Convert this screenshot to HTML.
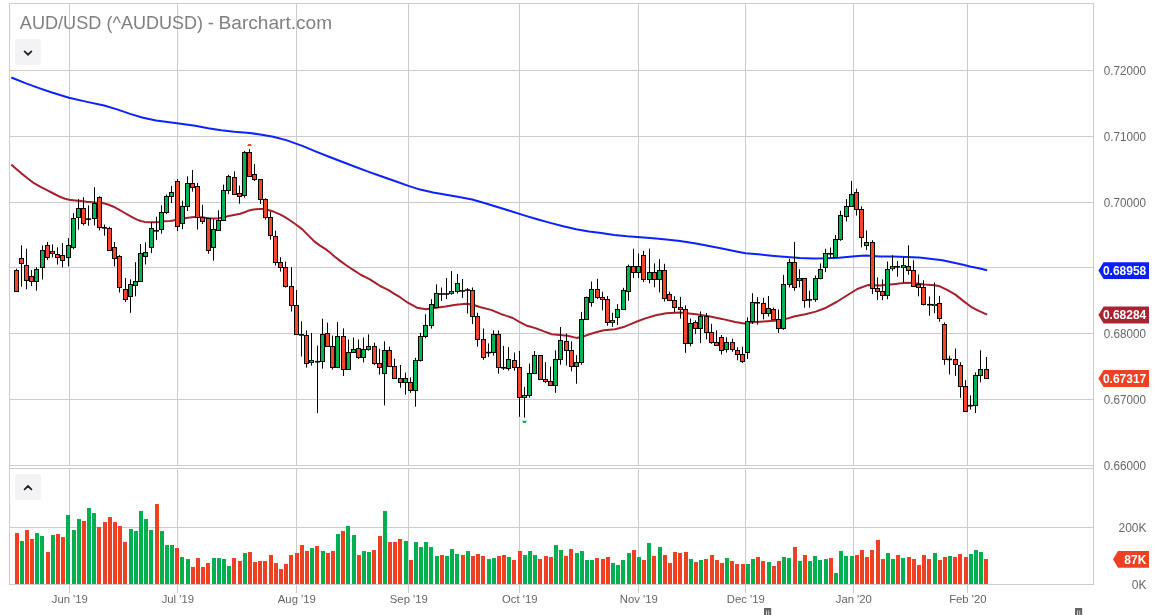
<!DOCTYPE html>
<html><head><meta charset="utf-8"><title>AUD/USD (^AUDUSD) - Barchart.com</title>
<style>html,body{margin:0;padding:0;background:#fff;}svg{display:block}text{font-family:"Liberation Sans",sans-serif;}</style></head><body>
<svg width="1156" height="615" viewBox="0 0 1156 615">
<rect width="1156" height="615" fill="#fff"/>
<g stroke="#cccccc" stroke-width="1" fill="none" shape-rendering="crispEdges">
<path d="M69.5 3.5V465.5M69.5 468.5V593"/>
<path d="M177.5 3.5V465.5M177.5 468.5V593"/>
<path d="M296.5 3.5V465.5M296.5 468.5V593"/>
<path d="M408.5 3.5V465.5M408.5 468.5V593"/>
<path d="M519.5 3.5V465.5M519.5 468.5V593"/>
<path d="M638.5 3.5V465.5M638.5 468.5V593"/>
<path d="M745.5 3.5V465.5M745.5 468.5V593"/>
<path d="M853.5 3.5V465.5M853.5 468.5V593"/>
<path d="M967.5 3.5V465.5M967.5 468.5V593"/>
<path d="M9.5 70.5H1093.5"/>
<path d="M9.5 136.5H1093.5"/>
<path d="M9.5 202.5H1093.5"/>
<path d="M9.5 267.5H1093.5"/>
<path d="M9.5 333.5H1093.5"/>
<path d="M9.5 399.5H1093.5"/>
<path d="M9.5 527.5H1093.5"/>
<rect x="9.5" y="3.5" width="1084" height="462"/>
<rect x="9.5" y="468.5" width="1084" height="116"/>
<path d="M9.5 465V469M1093.5 465V469"/>
</g>
<text y="28.8" font-size="18.6" fill="#808080"><tspan x="19.8" textLength="81.6" lengthAdjust="spacingAndGlyphs">AUD/USD</tspan> <tspan x="106.6" textLength="96.4" lengthAdjust="spacingAndGlyphs">(^AUDUSD)</tspan> <tspan x="207.7">-</tspan> <tspan x="218.6" textLength="113.5" lengthAdjust="spacingAndGlyphs">Barchart.com</tspan></text>
<rect x="15" y="39" width="26" height="26" rx="3.5" fill="#f3f3f5"/>
<path d="M24.6 51.4L28 54.7L31.4 51.4" stroke="#222" stroke-width="1.8" fill="none" stroke-linecap="round" stroke-linejoin="miter"/>
<rect x="15" y="474" width="26" height="26" rx="3.5" fill="#f3f3f5"/>
<path d="M24.6 489.4L28 486.1L31.4 489.4" stroke="#222" stroke-width="1.8" fill="none" stroke-linecap="round" stroke-linejoin="miter"/>
<g fill="#00b050">
<rect x="20" y="541" width="4" height="43"/>
<rect x="35" y="533" width="4" height="51"/>
<rect x="40" y="536" width="4" height="48"/>
<rect x="51" y="535" width="4" height="49"/>
<rect x="66" y="515" width="4" height="69"/>
<rect x="72" y="530" width="4" height="54"/>
<rect x="77" y="519" width="4" height="65"/>
<rect x="87" y="508" width="4" height="76"/>
<rect x="92" y="513" width="4" height="71"/>
<rect x="129" y="529" width="4" height="55"/>
<rect x="134" y="531" width="4" height="53"/>
<rect x="139" y="511" width="4" height="73"/>
<rect x="144" y="519" width="4" height="65"/>
<rect x="149" y="530" width="4" height="54"/>
<rect x="160" y="531" width="4" height="53"/>
<rect x="165" y="545" width="4" height="39"/>
<rect x="170" y="545" width="4" height="39"/>
<rect x="180" y="557" width="4" height="27"/>
<rect x="186" y="559" width="4" height="25"/>
<rect x="212" y="558" width="4" height="26"/>
<rect x="217" y="558" width="4" height="26"/>
<rect x="222" y="559" width="4" height="25"/>
<rect x="227" y="566" width="4" height="18"/>
<rect x="243" y="553" width="4" height="31"/>
<rect x="310" y="548" width="4" height="36"/>
<rect x="321" y="551" width="4" height="33"/>
<rect x="336" y="534" width="4" height="50"/>
<rect x="346" y="526" width="4" height="58"/>
<rect x="352" y="535" width="4" height="49"/>
<rect x="362" y="551" width="4" height="33"/>
<rect x="367" y="552" width="4" height="32"/>
<rect x="383" y="511" width="4" height="73"/>
<rect x="404" y="541" width="4" height="43"/>
<rect x="414" y="542" width="4" height="42"/>
<rect x="419" y="547" width="4" height="37"/>
<rect x="424" y="542" width="4" height="42"/>
<rect x="429" y="547" width="4" height="37"/>
<rect x="435" y="556" width="4" height="28"/>
<rect x="445" y="556" width="4" height="28"/>
<rect x="450" y="549" width="4" height="35"/>
<rect x="455" y="554" width="4" height="30"/>
<rect x="466" y="551" width="4" height="33"/>
<rect x="487" y="559" width="4" height="25"/>
<rect x="492" y="558" width="4" height="26"/>
<rect x="507" y="557" width="4" height="27"/>
<rect x="523" y="555" width="4" height="29"/>
<rect x="528" y="551" width="4" height="33"/>
<rect x="533" y="555" width="4" height="29"/>
<rect x="554" y="545" width="4" height="39"/>
<rect x="559" y="550" width="4" height="34"/>
<rect x="575" y="553" width="4" height="31"/>
<rect x="580" y="551" width="4" height="33"/>
<rect x="585" y="560" width="4" height="24"/>
<rect x="590" y="560" width="4" height="24"/>
<rect x="611" y="563" width="4" height="21"/>
<rect x="616" y="565" width="4" height="19"/>
<rect x="621" y="560" width="4" height="24"/>
<rect x="627" y="553" width="4" height="31"/>
<rect x="637" y="557" width="4" height="27"/>
<rect x="647" y="543" width="4" height="41"/>
<rect x="658" y="547" width="4" height="37"/>
<rect x="689" y="559" width="4" height="25"/>
<rect x="699" y="560" width="4" height="24"/>
<rect x="725" y="558" width="4" height="26"/>
<rect x="746" y="564" width="4" height="20"/>
<rect x="751" y="559" width="4" height="25"/>
<rect x="767" y="562" width="4" height="22"/>
<rect x="782" y="557" width="4" height="27"/>
<rect x="787" y="558" width="4" height="26"/>
<rect x="798" y="561" width="4" height="23"/>
<rect x="808" y="561" width="4" height="23"/>
<rect x="813" y="556" width="4" height="28"/>
<rect x="818" y="560" width="4" height="24"/>
<rect x="824" y="559" width="4" height="25"/>
<rect x="834" y="573" width="4" height="11"/>
<rect x="839" y="551" width="4" height="33"/>
<rect x="844" y="556" width="4" height="28"/>
<rect x="850" y="556" width="4" height="28"/>
<rect x="886" y="553" width="4" height="31"/>
<rect x="891" y="559" width="4" height="25"/>
<rect x="901" y="558" width="4" height="26"/>
<rect x="933" y="553" width="4" height="31"/>
<rect x="948" y="556" width="4" height="28"/>
<rect x="969" y="554" width="4" height="30"/>
<rect x="974" y="550" width="4" height="34"/>
<rect x="979" y="552" width="4" height="32"/>
</g>
<g fill="#f04023">
<rect x="15" y="533" width="4" height="51"/>
<rect x="25" y="530" width="4" height="54"/>
<rect x="30" y="539" width="4" height="45"/>
<rect x="46" y="552" width="4" height="32"/>
<rect x="56" y="534" width="4" height="50"/>
<rect x="61" y="537" width="4" height="47"/>
<rect x="82" y="521" width="4" height="63"/>
<rect x="97" y="527" width="4" height="57"/>
<rect x="103" y="522" width="4" height="62"/>
<rect x="108" y="517" width="4" height="67"/>
<rect x="113" y="522" width="4" height="62"/>
<rect x="118" y="526" width="4" height="58"/>
<rect x="123" y="542" width="4" height="42"/>
<rect x="155" y="504" width="4" height="80"/>
<rect x="175" y="548" width="4" height="36"/>
<rect x="191" y="567" width="4" height="17"/>
<rect x="196" y="558" width="4" height="26"/>
<rect x="201" y="567" width="4" height="17"/>
<rect x="206" y="563" width="4" height="21"/>
<rect x="232" y="558" width="4" height="26"/>
<rect x="238" y="561" width="4" height="23"/>
<rect x="248" y="552" width="4" height="32"/>
<rect x="253" y="562" width="4" height="22"/>
<rect x="258" y="561" width="4" height="23"/>
<rect x="263" y="561" width="4" height="23"/>
<rect x="269" y="555" width="4" height="29"/>
<rect x="274" y="563" width="4" height="21"/>
<rect x="279" y="569" width="4" height="15"/>
<rect x="284" y="564" width="4" height="20"/>
<rect x="289" y="555" width="4" height="29"/>
<rect x="295" y="553" width="4" height="31"/>
<rect x="300" y="545" width="4" height="39"/>
<rect x="305" y="551" width="4" height="33"/>
<rect x="315" y="546" width="4" height="38"/>
<rect x="326" y="553" width="4" height="31"/>
<rect x="331" y="551" width="4" height="33"/>
<rect x="341" y="531" width="4" height="53"/>
<rect x="357" y="555" width="4" height="29"/>
<rect x="372" y="550" width="4" height="34"/>
<rect x="378" y="536" width="4" height="48"/>
<rect x="388" y="542" width="4" height="42"/>
<rect x="393" y="542" width="4" height="42"/>
<rect x="398" y="539" width="4" height="45"/>
<rect x="409" y="560" width="4" height="24"/>
<rect x="440" y="555" width="4" height="29"/>
<rect x="461" y="555" width="4" height="29"/>
<rect x="471" y="556" width="4" height="28"/>
<rect x="476" y="554" width="4" height="30"/>
<rect x="481" y="556" width="4" height="28"/>
<rect x="497" y="556" width="4" height="28"/>
<rect x="502" y="555" width="4" height="29"/>
<rect x="512" y="560" width="4" height="24"/>
<rect x="518" y="551" width="4" height="33"/>
<rect x="538" y="559" width="4" height="25"/>
<rect x="544" y="556" width="4" height="28"/>
<rect x="549" y="557" width="4" height="27"/>
<rect x="564" y="556" width="4" height="28"/>
<rect x="569" y="549" width="4" height="35"/>
<rect x="595" y="558" width="4" height="26"/>
<rect x="601" y="559" width="4" height="25"/>
<rect x="606" y="557" width="4" height="27"/>
<rect x="632" y="550" width="4" height="34"/>
<rect x="642" y="560" width="4" height="24"/>
<rect x="652" y="556" width="4" height="28"/>
<rect x="663" y="555" width="4" height="29"/>
<rect x="668" y="563" width="4" height="21"/>
<rect x="673" y="552" width="4" height="32"/>
<rect x="678" y="553" width="4" height="31"/>
<rect x="684" y="552" width="4" height="32"/>
<rect x="694" y="562" width="4" height="22"/>
<rect x="704" y="559" width="4" height="25"/>
<rect x="710" y="555" width="4" height="29"/>
<rect x="715" y="560" width="4" height="24"/>
<rect x="720" y="563" width="4" height="21"/>
<rect x="730" y="561" width="4" height="23"/>
<rect x="735" y="564" width="4" height="20"/>
<rect x="741" y="564" width="4" height="20"/>
<rect x="756" y="557" width="4" height="27"/>
<rect x="761" y="561" width="4" height="23"/>
<rect x="772" y="566" width="4" height="18"/>
<rect x="777" y="561" width="4" height="23"/>
<rect x="793" y="547" width="4" height="37"/>
<rect x="803" y="555" width="4" height="29"/>
<rect x="829" y="558" width="4" height="26"/>
<rect x="855" y="555" width="4" height="29"/>
<rect x="860" y="550" width="4" height="34"/>
<rect x="865" y="557" width="4" height="27"/>
<rect x="870" y="550" width="4" height="34"/>
<rect x="876" y="540" width="4" height="44"/>
<rect x="881" y="559" width="4" height="25"/>
<rect x="896" y="555" width="4" height="29"/>
<rect x="907" y="557" width="4" height="27"/>
<rect x="912" y="559" width="4" height="25"/>
<rect x="917" y="565" width="4" height="19"/>
<rect x="922" y="555" width="4" height="29"/>
<rect x="927" y="559" width="4" height="25"/>
<rect x="938" y="560" width="4" height="24"/>
<rect x="943" y="557" width="4" height="27"/>
<rect x="953" y="557" width="4" height="27"/>
<rect x="958" y="554" width="4" height="30"/>
<rect x="964" y="557" width="4" height="27"/>
<rect x="984" y="559" width="4" height="25"/>
</g>
<polyline points="11.3,77.5 26.0,83.4 39.0,88.1 52.0,92.5 69.0,97.7 85.9,101.6 104.1,105.5 117.1,109.4 130.1,113.9 143.1,117.8 156.1,120.4 177.0,123.2 195.2,125.8 208.2,128.2 221.2,130.3 234.2,131.8 249.8,133.1 260.2,134.4 273.2,136.8 286.2,140.1 303.0,146.1 316.0,151.6 329.0,156.8 342.0,161.7 355.1,166.7 368.1,171.6 381.1,176.3 394.1,180.7 408.4,185.9 420.1,189.6 433.1,192.5 446.1,194.8 459.1,197.1 472.1,199.5 485.2,203.3 498.2,207.3 511.2,211.2 524.2,215.4 537.2,219.3 550.2,222.9 563.2,226.2 576.2,229.3 589.0,231.4 601.2,233.0 614.2,234.9 627.2,236.2 640.2,237.2 653.2,238.3 666.2,239.6 680.0,241.1 696.0,243.4 709.0,246.0 722.0,248.6 735.1,251.2 745.5,253.3 761.1,254.6 774.1,255.9 787.1,257.0 800.1,258.0 813.1,258.5 826.1,258.3 839.1,257.7 852.2,256.4 865.2,255.6 880.0,256.4 893.0,256.6 906.0,256.9 919.0,257.6 932.0,258.9 942.4,260.2 952.8,262.4 963.2,264.7 971.0,266.7 978.8,268.3 987.1,270.3" fill="none" stroke="#0c22ff" stroke-width="2" stroke-linejoin="round" stroke-linecap="butt"/>
<polyline points="11.3,164.6 16.0,168.8 21.0,173.1 27.5,178.3 34.0,183.2 40.5,186.8 47.0,190.1 53.5,193.5 60.0,196.8 65.0,198.7 69.1,199.7 75.0,200.4 80.8,201.0 86.5,201.7 92.5,202.3 97.0,202.8 101.7,202.8 108.0,204.5 113.5,206.7 118.5,209.3 123.9,212.5 128.5,215.2 133.0,217.7 137.0,219.6 140.8,221.0 144.5,221.9 148.6,222.3 154.0,222.2 159.0,221.9 164.0,221.3 170.0,220.9 176.0,219.9 183.0,218.6 190.0,217.5 196.0,216.8 203.0,217.4 209.0,218.3 214.0,218.6 218.1,218.6 223.0,217.6 228.5,216.0 234.0,215.0 240.2,213.8 244.0,212.5 248.0,210.8 252.0,209.8 255.8,209.2 260.0,208.9 263.6,209.0 269.0,210.2 274.0,211.8 280.0,214.4 285.0,217.2 289.5,220.0 293.8,223.0 298.0,226.0 302.6,229.6 308.5,235.6 314.3,241.4 320.0,245.6 326.0,249.4 330.5,253.0 334.8,256.7 340.5,261.1 346.5,265.5 354.0,270.4 361.1,275.0 365.5,277.2 369.9,279.4 375.0,282.7 380.2,286.0 384.5,288.2 389.0,290.4 394.0,293.6 400.0,297.2 407.8,302.7 416.9,307.7 426.0,309.2 436.4,307.7 445.5,306.6 455.9,304.7 466.3,303.8 472.8,304.7 480.6,307.3 491.0,309.9 501.4,314.2 505.0,315.4 512.8,318.0 519.3,321.9 527.1,325.8 536.2,328.4 544.0,331.4 551.8,334.2 559.6,334.9 567.4,335.8 576.5,337.9 583.0,336.6 589.5,334.2 596.0,332.3 603.8,330.3 615.0,329.2 624.6,326.7 635.0,322.3 645.4,318.4 655.8,315.3 666.2,313.2 680.0,312.6 696.0,314.2 709.0,316.3 722.0,318.9 735.1,322.0 744.2,323.6 753.3,322.3 763.7,321.5 774.1,320.7 784.5,319.4 794.9,316.3 805.3,314.2 815.7,311.6 826.1,307.7 836.5,302.0 846.9,295.5 857.3,289.0 867.8,285.1 880.0,285.6 893.0,284.2 906.0,282.8 913.8,282.9 924.2,284.4 934.6,285.2 939.8,286.3 947.6,290.1 955.4,294.6 963.2,300.9 971.0,306.8 978.8,310.9 987.1,314.7" fill="none" stroke="#a61f2c" stroke-width="2" stroke-linejoin="round" stroke-linecap="butt"/>
<g stroke="#000" stroke-width="1">
<path d="M16.5 268.7V292.0"/>
<path d="M21.5 245.3V286.7"/>
<path d="M26.5 248.7V289.2"/>
<path d="M31.5 270.0V286.0"/>
<path d="M36.5 267.2V290.6"/>
<path d="M42.5 245.3V279.5"/>
<path d="M47.5 242.0V260.0"/>
<path d="M52.5 244.4V257.4"/>
<path d="M57.5 247.3V264.5"/>
<path d="M62.5 243.0V267.4"/>
<path d="M68.5 238.1V266.4"/>
<path d="M73.5 213.2V249.2"/>
<path d="M78.5 199.1V229.7"/>
<path d="M83.5 197.2V225.4"/>
<path d="M88.5 205.4V225.8"/>
<path d="M94.5 187.2V225.4"/>
<path d="M99.5 196.2V230.3"/>
<path d="M104.5 224.5V235.6"/>
<path d="M109.5 226.8V251.0"/>
<path d="M114.5 242.0V266.4"/>
<path d="M119.5 255.1V292.5"/>
<path d="M125.5 278.1V302.0"/>
<path d="M130.5 279.3V312.8"/>
<path d="M135.5 262.2V296.3"/>
<path d="M140.5 244.0V282.0"/>
<path d="M145.5 242.4V264.5"/>
<path d="M151.5 221.9V253.1"/>
<path d="M156.5 216.7V239.9"/>
<path d="M161.5 205.3V233.7"/>
<path d="M166.5 194.5V214.0"/>
<path d="M171.5 185.9V203.0"/>
<path d="M177.5 179.1V231.0"/>
<path d="M182.5 200.7V229.2"/>
<path d="M187.5 176.4V211.0"/>
<path d="M192.5 170.0V191.6"/>
<path d="M197.5 182.9V229.5"/>
<path d="M202.5 204.9V223.9"/>
<path d="M208.5 218.0V253.8"/>
<path d="M213.5 219.3V260.7"/>
<path d="M218.5 210.3V231.0"/>
<path d="M223.5 184.6V221.0"/>
<path d="M228.5 174.8V194.2"/>
<path d="M234.5 171.4V195.0"/>
<path d="M239.5 185.5V203.7"/>
<path d="M244.5 150.9V197.6"/>
<path d="M249.5 149.1V177.0"/>
<path d="M254.5 164.1V181.0"/>
<path d="M260.5 179.0V204.0"/>
<path d="M265.5 198.3V219.7"/>
<path d="M270.5 211.7V239.7"/>
<path d="M275.5 230.6V265.6"/>
<path d="M280.5 257.2V271.6"/>
<path d="M285.5 261.6V287.5"/>
<path d="M291.5 267.2V311.5"/>
<path d="M296.5 290.1V335.0"/>
<path d="M301.5 321.3V356.5"/>
<path d="M306.5 330.4V367.6"/>
<path d="M311.5 333.0V365.6"/>
<path d="M317.5 345.5V413.2"/>
<path d="M322.5 318.7V368.7"/>
<path d="M327.5 322.6V347.0"/>
<path d="M332.5 335.6V369.5"/>
<path d="M337.5 322.1V368.0"/>
<path d="M343.5 328.4V376.0"/>
<path d="M348.5 339.5V370.0"/>
<path d="M353.5 337.5V353.0"/>
<path d="M358.5 339.5V359.0"/>
<path d="M363.5 337.5V362.4"/>
<path d="M368.5 334.3V350.7"/>
<path d="M374.5 342.7V365.0"/>
<path d="M379.5 348.7V374.7"/>
<path d="M384.5 341.4V405.4"/>
<path d="M389.5 346.6V367.0"/>
<path d="M394.5 358.6V379.0"/>
<path d="M400.5 365.0V387.7"/>
<path d="M405.5 372.6V394.7"/>
<path d="M410.5 377.3V392.9"/>
<path d="M415.5 357.8V406.7"/>
<path d="M420.5 333.0V361.7"/>
<path d="M425.5 314.3V338.2"/>
<path d="M431.5 299.2V328.6"/>
<path d="M436.5 284.4V308.0"/>
<path d="M441.5 287.5V301.0"/>
<path d="M446.5 277.9V299.2"/>
<path d="M451.5 271.1V294.8"/>
<path d="M457.5 274.0V293.5"/>
<path d="M462.5 278.9V297.9"/>
<path d="M467.5 288.0V313.5"/>
<path d="M472.5 287.5V323.9"/>
<path d="M477.5 312.8V346.6"/>
<path d="M483.5 328.6V359.8"/>
<path d="M488.5 343.4V357.0"/>
<path d="M493.5 330.3V355.6"/>
<path d="M498.5 330.6V373.6"/>
<path d="M503.5 345.9V370.0"/>
<path d="M508.5 347.1V370.7"/>
<path d="M514.5 352.5V370.7"/>
<path d="M519.5 351.0V416.8"/>
<path d="M524.5 386.9V417.6"/>
<path d="M529.5 363.5V397.8"/>
<path d="M534.5 351.0V374.0"/>
<path d="M540.5 355.0V380.0"/>
<path d="M545.5 362.1V383.0"/>
<path d="M550.5 366.6V386.0"/>
<path d="M555.5 350.4V392.8"/>
<path d="M560.5 327.0V364.8"/>
<path d="M566.5 333.5V365.5"/>
<path d="M571.5 341.3V371.3"/>
<path d="M576.5 355.1V383.7"/>
<path d="M581.5 311.9V364.8"/>
<path d="M586.5 296.6V320.0"/>
<path d="M591.5 281.5V306.7"/>
<path d="M597.5 278.9V299.2"/>
<path d="M602.5 291.7V310.3"/>
<path d="M607.5 296.0V325.7"/>
<path d="M612.5 312.7V326.8"/>
<path d="M617.5 304.1V325.0"/>
<path d="M623.5 287.8V310.0"/>
<path d="M628.5 264.6V300.8"/>
<path d="M633.5 248.7V278.1"/>
<path d="M638.5 253.4V278.1"/>
<path d="M643.5 250.8V282.0"/>
<path d="M649.5 248.7V283.3"/>
<path d="M654.5 263.3V287.2"/>
<path d="M659.5 259.1V292.4"/>
<path d="M664.5 263.8V301.5"/>
<path d="M669.5 291.7V301.0"/>
<path d="M674.5 296.3V312.0"/>
<path d="M680.5 296.9V318.5"/>
<path d="M685.5 305.4V352.8"/>
<path d="M690.5 318.5V346.3"/>
<path d="M695.5 320.3V334.1"/>
<path d="M700.5 311.4V343.2"/>
<path d="M706.5 313.0V339.3"/>
<path d="M711.5 323.8V343.8"/>
<path d="M716.5 330.4V346.0"/>
<path d="M721.5 335.0V354.6"/>
<path d="M726.5 337.4V352.5"/>
<path d="M732.5 338.7V351.7"/>
<path d="M737.5 347.3V360.3"/>
<path d="M742.5 346.7V362.9"/>
<path d="M747.5 317.4V359.0"/>
<path d="M752.5 293.2V323.9"/>
<path d="M757.5 297.1V324.6"/>
<path d="M763.5 297.8V319.4"/>
<path d="M768.5 296.0V316.6"/>
<path d="M773.5 307.7V320.0"/>
<path d="M778.5 309.5V333.0"/>
<path d="M783.5 274.9V329.8"/>
<path d="M789.5 258.8V287.4"/>
<path d="M794.5 241.9V290.8"/>
<path d="M799.5 269.2V287.4"/>
<path d="M804.5 278.0V307.7"/>
<path d="M809.5 290.6V307.7"/>
<path d="M815.5 275.5V301.8"/>
<path d="M820.5 263.4V279.4"/>
<path d="M825.5 248.8V272.2"/>
<path d="M830.5 247.5V258.5"/>
<path d="M835.5 235.0V258.0"/>
<path d="M840.5 210.8V240.8"/>
<path d="M846.5 199.1V221.5"/>
<path d="M851.5 180.9V207.0"/>
<path d="M856.5 188.7V215.5"/>
<path d="M861.5 206.4V247.3"/>
<path d="M866.5 230.4V249.9"/>
<path d="M872.5 240.2V294.1"/>
<path d="M877.5 277.4V300.1"/>
<path d="M882.5 279.3V300.1"/>
<path d="M887.5 261.6V299.3"/>
<path d="M892.5 255.3V270.9"/>
<path d="M897.5 261.1V276.7"/>
<path d="M903.5 257.1V282.4"/>
<path d="M908.5 245.4V274.8"/>
<path d="M913.5 260.3V287.0"/>
<path d="M918.5 274.5V296.3"/>
<path d="M923.5 280.3V305.4"/>
<path d="M929.5 296.5V315.8"/>
<path d="M934.5 282.6V313.3"/>
<path d="M939.5 295.9V321.7"/>
<path d="M944.5 322.4V364.8"/>
<path d="M949.5 355.7V374.5"/>
<path d="M955.5 348.5V375.8"/>
<path d="M960.5 362.2V397.9"/>
<path d="M965.5 380.2V412.0"/>
<path d="M970.5 395.3V409.6"/>
<path d="M975.5 372.4V413.0"/>
<path d="M980.5 350.3V382.3"/>
<path d="M986.5 357.0V379.0"/>
</g>
<g fill="#000">
<rect x="14.0" y="270.0" width="5" height="22.0"/>
<rect x="19.0" y="258.0" width="5" height="6.0"/>
<rect x="24.0" y="265.0" width="5" height="16.0"/>
<rect x="29.0" y="276.0" width="5" height="6.0"/>
<rect x="34.0" y="269.0" width="5" height="13.0"/>
<rect x="40.0" y="250.0" width="5" height="18.0"/>
<rect x="45.0" y="245.0" width="5" height="13.0"/>
<rect x="50.0" y="251.0" width="5" height="3.0"/>
<rect x="55.0" y="254.0" width="5" height="4.0"/>
<rect x="60.0" y="255.0" width="5" height="6.0"/>
<rect x="66.0" y="245.0" width="5" height="13.0"/>
<rect x="71.0" y="218.0" width="5" height="30.0"/>
<rect x="76.0" y="208.0" width="5" height="10.0"/>
<rect x="81.0" y="208.0" width="5" height="16.0"/>
<rect x="92.0" y="203.0" width="5" height="16.0"/>
<rect x="97.0" y="197.0" width="5" height="31.0"/>
<rect x="107.0" y="228.0" width="5" height="23.0"/>
<rect x="112.0" y="247.0" width="5" height="12.0"/>
<rect x="117.0" y="256.0" width="5" height="32.0"/>
<rect x="123.0" y="289.0" width="5" height="11.0"/>
<rect x="128.0" y="284.0" width="5" height="13.0"/>
<rect x="133.0" y="281.0" width="5" height="5.0"/>
<rect x="138.0" y="253.0" width="5" height="29.0"/>
<rect x="143.0" y="252.0" width="5" height="5.0"/>
<rect x="149.0" y="228.0" width="5" height="20.0"/>
<rect x="159.0" y="212.0" width="5" height="18.0"/>
<rect x="164.0" y="196.0" width="5" height="17.0"/>
<rect x="169.0" y="192.0" width="5" height="5.0"/>
<rect x="175.0" y="181.0" width="5" height="46.0"/>
<rect x="180.0" y="206.0" width="5" height="18.0"/>
<rect x="185.0" y="183.0" width="5" height="24.0"/>
<rect x="190.0" y="183.0" width="5" height="5.0"/>
<rect x="195.0" y="186.0" width="5" height="32.0"/>
<rect x="200.0" y="217.0" width="5" height="5.0"/>
<rect x="206.0" y="218.0" width="5" height="33.0"/>
<rect x="211.0" y="229.0" width="5" height="19.0"/>
<rect x="216.0" y="220.0" width="5" height="11.0"/>
<rect x="221.0" y="190.0" width="5" height="31.0"/>
<rect x="226.0" y="176.0" width="5" height="15.0"/>
<rect x="232.0" y="177.0" width="5" height="18.0"/>
<rect x="237.0" y="193.0" width="5" height="4.0"/>
<rect x="242.0" y="152.0" width="5" height="44.0"/>
<rect x="247.0" y="152.0" width="5" height="25.0"/>
<rect x="252.0" y="174.0" width="5" height="6.0"/>
<rect x="258.0" y="179.0" width="5" height="21.0"/>
<rect x="263.0" y="199.0" width="5" height="19.0"/>
<rect x="268.0" y="217.0" width="5" height="19.0"/>
<rect x="273.0" y="236.0" width="5" height="27.0"/>
<rect x="278.0" y="262.0" width="5" height="6.0"/>
<rect x="283.0" y="267.0" width="5" height="20.0"/>
<rect x="289.0" y="286.0" width="5" height="20.0"/>
<rect x="294.0" y="305.0" width="5" height="30.0"/>
<rect x="304.0" y="335.0" width="5" height="29.0"/>
<rect x="309.0" y="360.0" width="5" height="3.0"/>
<rect x="320.0" y="334.0" width="5" height="28.0"/>
<rect x="325.0" y="333.0" width="5" height="14.0"/>
<rect x="330.0" y="346.0" width="5" height="22.0"/>
<rect x="335.0" y="336.0" width="5" height="32.0"/>
<rect x="341.0" y="336.0" width="5" height="34.0"/>
<rect x="346.0" y="352.0" width="5" height="18.0"/>
<rect x="351.0" y="349.0" width="5" height="4.0"/>
<rect x="356.0" y="348.0" width="5" height="10.0"/>
<rect x="361.0" y="349.0" width="5" height="9.0"/>
<rect x="366.0" y="346.0" width="5" height="4.0"/>
<rect x="372.0" y="346.0" width="5" height="18.0"/>
<rect x="377.0" y="363.0" width="5" height="5.0"/>
<rect x="382.0" y="350.0" width="5" height="24.0"/>
<rect x="387.0" y="350.0" width="5" height="17.0"/>
<rect x="392.0" y="366.0" width="5" height="13.0"/>
<rect x="398.0" y="378.0" width="5" height="5.0"/>
<rect x="403.0" y="378.0" width="5" height="5.0"/>
<rect x="408.0" y="382.0" width="5" height="9.0"/>
<rect x="413.0" y="360.0" width="5" height="31.0"/>
<rect x="418.0" y="336.0" width="5" height="25.0"/>
<rect x="423.0" y="325.0" width="5" height="12.0"/>
<rect x="429.0" y="304.0" width="5" height="22.0"/>
<rect x="434.0" y="293.0" width="5" height="15.0"/>
<rect x="449.0" y="291.0" width="5" height="3.0"/>
<rect x="455.0" y="283.0" width="5" height="9.0"/>
<rect x="470.0" y="290.0" width="5" height="27.0"/>
<rect x="475.0" y="316.0" width="5" height="24.0"/>
<rect x="481.0" y="339.0" width="5" height="19.0"/>
<rect x="491.0" y="334.0" width="5" height="19.0"/>
<rect x="496.0" y="334.0" width="5" height="34.0"/>
<rect x="506.0" y="359.0" width="5" height="10.0"/>
<rect x="512.0" y="360.0" width="5" height="8.0"/>
<rect x="517.0" y="367.0" width="5" height="31.0"/>
<rect x="522.0" y="395.0" width="5" height="3.0"/>
<rect x="527.0" y="373.0" width="5" height="23.0"/>
<rect x="532.0" y="355.0" width="5" height="19.0"/>
<rect x="538.0" y="355.0" width="5" height="25.0"/>
<rect x="543.0" y="379.0" width="5" height="3.0"/>
<rect x="548.0" y="381.0" width="5" height="5.0"/>
<rect x="553.0" y="359.0" width="5" height="27.0"/>
<rect x="558.0" y="340.0" width="5" height="20.0"/>
<rect x="564.0" y="341.0" width="5" height="10.0"/>
<rect x="569.0" y="350.0" width="5" height="17.0"/>
<rect x="574.0" y="362.0" width="5" height="5.0"/>
<rect x="579.0" y="319.0" width="5" height="44.0"/>
<rect x="584.0" y="297.0" width="5" height="23.0"/>
<rect x="589.0" y="289.0" width="5" height="14.0"/>
<rect x="595.0" y="289.0" width="5" height="9.0"/>
<rect x="600.0" y="297.0" width="5" height="3.0"/>
<rect x="605.0" y="299.0" width="5" height="24.0"/>
<rect x="610.0" y="320.0" width="5" height="3.0"/>
<rect x="615.0" y="309.0" width="5" height="9.0"/>
<rect x="621.0" y="290.0" width="5" height="20.0"/>
<rect x="626.0" y="266.0" width="5" height="26.0"/>
<rect x="631.0" y="266.0" width="5" height="7.0"/>
<rect x="636.0" y="266.0" width="5" height="7.0"/>
<rect x="641.0" y="255.0" width="5" height="25.0"/>
<rect x="647.0" y="272.0" width="5" height="8.0"/>
<rect x="652.0" y="272.0" width="5" height="8.0"/>
<rect x="657.0" y="270.0" width="5" height="10.0"/>
<rect x="662.0" y="270.0" width="5" height="29.0"/>
<rect x="667.0" y="294.0" width="5" height="7.0"/>
<rect x="672.0" y="300.0" width="5" height="8.0"/>
<rect x="678.0" y="307.0" width="5" height="3.0"/>
<rect x="683.0" y="309.0" width="5" height="35.0"/>
<rect x="688.0" y="323.0" width="5" height="21.0"/>
<rect x="693.0" y="322.0" width="5" height="7.0"/>
<rect x="698.0" y="316.0" width="5" height="13.0"/>
<rect x="704.0" y="316.0" width="5" height="17.0"/>
<rect x="709.0" y="332.0" width="5" height="11.0"/>
<rect x="714.0" y="342.0" width="5" height="4.0"/>
<rect x="719.0" y="337.0" width="5" height="14.0"/>
<rect x="724.0" y="342.0" width="5" height="8.0"/>
<rect x="730.0" y="342.0" width="5" height="8.0"/>
<rect x="735.0" y="350.0" width="5" height="5.0"/>
<rect x="740.0" y="354.0" width="5" height="8.0"/>
<rect x="745.0" y="321.0" width="5" height="32.0"/>
<rect x="750.0" y="302.0" width="5" height="20.0"/>
<rect x="761.0" y="303.0" width="5" height="11.0"/>
<rect x="766.0" y="308.0" width="5" height="6.0"/>
<rect x="771.0" y="309.0" width="5" height="11.0"/>
<rect x="776.0" y="319.0" width="5" height="10.0"/>
<rect x="781.0" y="284.0" width="5" height="45.0"/>
<rect x="787.0" y="262.0" width="5" height="23.0"/>
<rect x="792.0" y="262.0" width="5" height="26.0"/>
<rect x="797.0" y="278.0" width="5" height="3.0"/>
<rect x="802.0" y="278.0" width="5" height="23.0"/>
<rect x="813.0" y="278.0" width="5" height="22.0"/>
<rect x="818.0" y="269.0" width="5" height="10.0"/>
<rect x="823.0" y="253.0" width="5" height="15.0"/>
<rect x="833.0" y="239.0" width="5" height="19.0"/>
<rect x="838.0" y="215.0" width="5" height="25.0"/>
<rect x="844.0" y="206.0" width="5" height="11.0"/>
<rect x="849.0" y="194.0" width="5" height="13.0"/>
<rect x="854.0" y="192.0" width="5" height="18.0"/>
<rect x="859.0" y="209.0" width="5" height="29.0"/>
<rect x="864.0" y="242.0" width="5" height="4.0"/>
<rect x="870.0" y="242.0" width="5" height="47.0"/>
<rect x="875.0" y="288.0" width="5" height="4.0"/>
<rect x="880.0" y="291.0" width="5" height="5.0"/>
<rect x="885.0" y="269.0" width="5" height="27.0"/>
<rect x="890.0" y="266.0" width="5" height="3.0"/>
<rect x="901.0" y="265.0" width="5" height="3.0"/>
<rect x="906.0" y="266.0" width="5" height="5.0"/>
<rect x="911.0" y="270.0" width="5" height="17.0"/>
<rect x="916.0" y="284.0" width="5" height="4.0"/>
<rect x="921.0" y="287.0" width="5" height="18.0"/>
<rect x="932.0" y="304.0" width="5" height="2.0"/>
<rect x="937.0" y="303.0" width="5" height="16.0"/>
<rect x="942.0" y="324.0" width="5" height="36.0"/>
<rect x="953.0" y="359.0" width="5" height="6.0"/>
<rect x="958.0" y="365.0" width="5" height="22.0"/>
<rect x="963.0" y="386.0" width="5" height="26.0"/>
<rect x="973.0" y="375.0" width="5" height="31.0"/>
<rect x="978.0" y="369.0" width="5" height="7.0"/>
<rect x="984.0" y="369.0" width="5" height="10.0"/>
</g>
<g fill="#00b452">
<rect x="35.0" y="270.0" width="3" height="11.0"/>
<rect x="41.0" y="251.0" width="3" height="16.0"/>
<rect x="67.0" y="246.0" width="3" height="11.0"/>
<rect x="72.0" y="219.0" width="3" height="28.0"/>
<rect x="77.0" y="209.0" width="3" height="8.0"/>
<rect x="93.0" y="204.0" width="3" height="14.0"/>
<rect x="129.0" y="285.0" width="3" height="11.0"/>
<rect x="134.0" y="282.0" width="3" height="3.0"/>
<rect x="139.0" y="254.0" width="3" height="27.0"/>
<rect x="144.0" y="253.0" width="3" height="3.0"/>
<rect x="150.0" y="229.0" width="3" height="18.0"/>
<rect x="160.0" y="213.0" width="3" height="16.0"/>
<rect x="165.0" y="197.0" width="3" height="15.0"/>
<rect x="170.0" y="193.0" width="3" height="3.0"/>
<rect x="181.0" y="207.0" width="3" height="16.0"/>
<rect x="186.0" y="184.0" width="3" height="22.0"/>
<rect x="212.0" y="230.0" width="3" height="17.0"/>
<rect x="217.0" y="221.0" width="3" height="9.0"/>
<rect x="222.0" y="191.0" width="3" height="29.0"/>
<rect x="227.0" y="177.0" width="3" height="13.0"/>
<rect x="243.0" y="153.0" width="3" height="42.0"/>
<rect x="310.0" y="360.8" width="3" height="1.5"/>
<rect x="321.0" y="335.0" width="3" height="26.0"/>
<rect x="336.0" y="337.0" width="3" height="30.0"/>
<rect x="347.0" y="353.0" width="3" height="16.0"/>
<rect x="352.0" y="350.0" width="3" height="2.0"/>
<rect x="362.0" y="350.0" width="3" height="7.0"/>
<rect x="367.0" y="347.0" width="3" height="2.0"/>
<rect x="383.0" y="351.0" width="3" height="22.0"/>
<rect x="404.0" y="379.0" width="3" height="3.0"/>
<rect x="414.0" y="361.0" width="3" height="29.0"/>
<rect x="419.0" y="337.0" width="3" height="23.0"/>
<rect x="424.0" y="326.0" width="3" height="10.0"/>
<rect x="430.0" y="305.0" width="3" height="20.0"/>
<rect x="435.0" y="294.0" width="3" height="13.0"/>
<rect x="450.0" y="291.8" width="3" height="1.5"/>
<rect x="456.0" y="284.0" width="3" height="7.0"/>
<rect x="492.0" y="335.0" width="3" height="17.0"/>
<rect x="507.0" y="360.0" width="3" height="8.0"/>
<rect x="523.0" y="395.8" width="3" height="1.5"/>
<rect x="528.0" y="374.0" width="3" height="21.0"/>
<rect x="533.0" y="356.0" width="3" height="17.0"/>
<rect x="554.0" y="360.0" width="3" height="25.0"/>
<rect x="559.0" y="341.0" width="3" height="18.0"/>
<rect x="575.0" y="363.0" width="3" height="3.0"/>
<rect x="580.0" y="320.0" width="3" height="42.0"/>
<rect x="585.0" y="298.0" width="3" height="21.0"/>
<rect x="590.0" y="290.0" width="3" height="12.0"/>
<rect x="611.0" y="320.8" width="3" height="1.5"/>
<rect x="616.0" y="310.0" width="3" height="7.0"/>
<rect x="622.0" y="291.0" width="3" height="18.0"/>
<rect x="627.0" y="267.0" width="3" height="24.0"/>
<rect x="637.0" y="267.0" width="3" height="5.0"/>
<rect x="648.0" y="273.0" width="3" height="6.0"/>
<rect x="658.0" y="271.0" width="3" height="8.0"/>
<rect x="689.0" y="324.0" width="3" height="19.0"/>
<rect x="699.0" y="317.0" width="3" height="11.0"/>
<rect x="725.0" y="343.0" width="3" height="6.0"/>
<rect x="746.0" y="322.0" width="3" height="30.0"/>
<rect x="751.0" y="303.0" width="3" height="18.0"/>
<rect x="767.0" y="309.0" width="3" height="4.0"/>
<rect x="782.0" y="285.0" width="3" height="43.0"/>
<rect x="788.0" y="263.0" width="3" height="21.0"/>
<rect x="798.0" y="278.8" width="3" height="1.5"/>
<rect x="814.0" y="279.0" width="3" height="20.0"/>
<rect x="819.0" y="270.0" width="3" height="8.0"/>
<rect x="824.0" y="254.0" width="3" height="13.0"/>
<rect x="834.0" y="240.0" width="3" height="17.0"/>
<rect x="839.0" y="216.0" width="3" height="23.0"/>
<rect x="845.0" y="207.0" width="3" height="9.0"/>
<rect x="850.0" y="195.0" width="3" height="11.0"/>
<rect x="865.0" y="243.0" width="3" height="2.0"/>
<rect x="886.0" y="270.0" width="3" height="25.0"/>
<rect x="891.0" y="266.8" width="3" height="1.5"/>
<rect x="902.0" y="265.8" width="3" height="1.5"/>
<rect x="933.0" y="304.5" width="3" height="1.0"/>
<rect x="974.0" y="376.0" width="3" height="29.0"/>
<rect x="979.0" y="370.0" width="3" height="5.0"/>
</g>
<g fill="#f5452a">
<rect x="15.0" y="271.0" width="3" height="20.0"/>
<rect x="20.0" y="259.0" width="3" height="4.0"/>
<rect x="25.0" y="266.0" width="3" height="14.0"/>
<rect x="30.0" y="277.0" width="3" height="4.0"/>
<rect x="46.0" y="246.0" width="3" height="11.0"/>
<rect x="51.0" y="251.8" width="3" height="1.5"/>
<rect x="56.0" y="255.0" width="3" height="2.0"/>
<rect x="61.0" y="256.0" width="3" height="4.0"/>
<rect x="82.0" y="209.0" width="3" height="14.0"/>
<rect x="98.0" y="198.0" width="3" height="29.0"/>
<rect x="108.0" y="229.0" width="3" height="21.0"/>
<rect x="113.0" y="248.0" width="3" height="10.0"/>
<rect x="118.0" y="257.0" width="3" height="30.0"/>
<rect x="124.0" y="290.0" width="3" height="9.0"/>
<rect x="176.0" y="182.0" width="3" height="44.0"/>
<rect x="191.0" y="184.0" width="3" height="3.0"/>
<rect x="196.0" y="187.0" width="3" height="30.0"/>
<rect x="201.0" y="218.0" width="3" height="3.0"/>
<rect x="207.0" y="219.0" width="3" height="31.0"/>
<rect x="233.0" y="178.0" width="3" height="16.0"/>
<rect x="238.0" y="194.0" width="3" height="2.0"/>
<rect x="248.0" y="153.0" width="3" height="23.0"/>
<rect x="253.0" y="175.0" width="3" height="4.0"/>
<rect x="259.0" y="180.0" width="3" height="19.0"/>
<rect x="264.0" y="200.0" width="3" height="17.0"/>
<rect x="269.0" y="218.0" width="3" height="17.0"/>
<rect x="274.0" y="237.0" width="3" height="25.0"/>
<rect x="279.0" y="263.0" width="3" height="4.0"/>
<rect x="284.0" y="268.0" width="3" height="18.0"/>
<rect x="290.0" y="287.0" width="3" height="18.0"/>
<rect x="295.0" y="306.0" width="3" height="28.0"/>
<rect x="305.0" y="336.0" width="3" height="27.0"/>
<rect x="326.0" y="334.0" width="3" height="12.0"/>
<rect x="331.0" y="347.0" width="3" height="20.0"/>
<rect x="342.0" y="337.0" width="3" height="32.0"/>
<rect x="357.0" y="349.0" width="3" height="8.0"/>
<rect x="373.0" y="347.0" width="3" height="16.0"/>
<rect x="378.0" y="364.0" width="3" height="3.0"/>
<rect x="388.0" y="351.0" width="3" height="15.0"/>
<rect x="393.0" y="367.0" width="3" height="11.0"/>
<rect x="399.0" y="379.0" width="3" height="3.0"/>
<rect x="409.0" y="383.0" width="3" height="7.0"/>
<rect x="471.0" y="291.0" width="3" height="25.0"/>
<rect x="476.0" y="317.0" width="3" height="22.0"/>
<rect x="482.0" y="340.0" width="3" height="17.0"/>
<rect x="497.0" y="335.0" width="3" height="32.0"/>
<rect x="513.0" y="361.0" width="3" height="6.0"/>
<rect x="518.0" y="368.0" width="3" height="29.0"/>
<rect x="539.0" y="356.0" width="3" height="23.0"/>
<rect x="544.0" y="379.8" width="3" height="1.5"/>
<rect x="549.0" y="382.0" width="3" height="3.0"/>
<rect x="565.0" y="342.0" width="3" height="8.0"/>
<rect x="570.0" y="351.0" width="3" height="15.0"/>
<rect x="596.0" y="290.0" width="3" height="7.0"/>
<rect x="601.0" y="297.8" width="3" height="1.5"/>
<rect x="606.0" y="300.0" width="3" height="22.0"/>
<rect x="632.0" y="267.0" width="3" height="5.0"/>
<rect x="642.0" y="256.0" width="3" height="23.0"/>
<rect x="653.0" y="273.0" width="3" height="6.0"/>
<rect x="663.0" y="271.0" width="3" height="27.0"/>
<rect x="668.0" y="295.0" width="3" height="5.0"/>
<rect x="673.0" y="301.0" width="3" height="6.0"/>
<rect x="679.0" y="307.8" width="3" height="1.5"/>
<rect x="684.0" y="310.0" width="3" height="33.0"/>
<rect x="694.0" y="323.0" width="3" height="5.0"/>
<rect x="705.0" y="317.0" width="3" height="15.0"/>
<rect x="710.0" y="333.0" width="3" height="9.0"/>
<rect x="715.0" y="343.0" width="3" height="2.0"/>
<rect x="720.0" y="338.0" width="3" height="12.0"/>
<rect x="731.0" y="343.0" width="3" height="6.0"/>
<rect x="736.0" y="351.0" width="3" height="3.0"/>
<rect x="741.0" y="355.0" width="3" height="6.0"/>
<rect x="762.0" y="304.0" width="3" height="9.0"/>
<rect x="772.0" y="310.0" width="3" height="9.0"/>
<rect x="777.0" y="320.0" width="3" height="8.0"/>
<rect x="793.0" y="263.0" width="3" height="24.0"/>
<rect x="803.0" y="279.0" width="3" height="21.0"/>
<rect x="855.0" y="193.0" width="3" height="16.0"/>
<rect x="860.0" y="210.0" width="3" height="27.0"/>
<rect x="871.0" y="243.0" width="3" height="45.0"/>
<rect x="876.0" y="289.0" width="3" height="2.0"/>
<rect x="881.0" y="292.0" width="3" height="3.0"/>
<rect x="907.0" y="267.0" width="3" height="3.0"/>
<rect x="912.0" y="271.0" width="3" height="15.0"/>
<rect x="917.0" y="285.0" width="3" height="2.0"/>
<rect x="922.0" y="288.0" width="3" height="16.0"/>
<rect x="938.0" y="304.0" width="3" height="14.0"/>
<rect x="943.0" y="325.0" width="3" height="34.0"/>
<rect x="954.0" y="360.0" width="3" height="4.0"/>
<rect x="959.0" y="366.0" width="3" height="20.0"/>
<rect x="964.0" y="387.0" width="3" height="24.0"/>
<rect x="985.0" y="370.0" width="3" height="8.0"/>
</g>
<g stroke="#000" stroke-width="1.6">
<path d="M86.0 219.1H91.0"/>
<path d="M102.0 227.8H107.0"/>
<path d="M154.0 230.8H159.0"/>
<path d="M299.0 334.9H304.0"/>
<path d="M315.0 361.7H320.0"/>
<path d="M439.0 294.0H444.0"/>
<path d="M444.0 294.0H449.0"/>
<path d="M460.0 290.9H465.0"/>
<path d="M465.0 290.1H470.0"/>
<path d="M486.0 352.6H491.0"/>
<path d="M501.0 367.8H506.0"/>
<path d="M755.0 302.8H760.0"/>
<path d="M807.0 299.9H812.0"/>
<path d="M828.0 253.8H833.0"/>
<path d="M895.0 266.8H900.0"/>
<path d="M927.0 304.7H932.0"/>
<path d="M947.0 359.4H952.0"/>
<path d="M968.0 405.7H973.0"/>
</g>
<path d="M247.1 146.1L251.9 146.1L250.6 143.9L248.4 143.9Z" fill="#f04023"/>
<path d="M522.1 420.7L526.9 420.7L525.6 423L523.4 423Z" fill="#00b050"/>
<g font-size="12" fill="#666666">
<text x="1103.7" y="74.7" textLength="42.2" lengthAdjust="spacingAndGlyphs">0.72000</text>
<text x="1103.7" y="140.6" textLength="42.2" lengthAdjust="spacingAndGlyphs">0.71000</text>
<text x="1103.7" y="206.5" textLength="42.2" lengthAdjust="spacingAndGlyphs">0.70000</text>
<text x="1103.7" y="272.4" textLength="42.2" lengthAdjust="spacingAndGlyphs">0.69000</text>
<text x="1103.7" y="338.3" textLength="42.2" lengthAdjust="spacingAndGlyphs">0.68000</text>
<text x="1103.7" y="404.2" textLength="42.2" lengthAdjust="spacingAndGlyphs">0.67000</text>
<text x="1103.7" y="470.1" textLength="42.2" lengthAdjust="spacingAndGlyphs">0.66000</text>
<text x="1146.5" y="532.2" text-anchor="end">200K</text>
<text x="1146.5" y="588.8" text-anchor="end">0K</text>
</g>
<g font-size="11.3" fill="#666666" text-anchor="middle">
<text x="69.8" y="603.2">Jun '19</text>
<text x="177.8" y="603.2">Jul '19</text>
<text x="296.8" y="603.2">Aug '19</text>
<text x="408.8" y="603.2">Sep '19</text>
<text x="519.8" y="603.2">Oct '19</text>
<text x="638.8" y="603.2">Nov '19</text>
<text x="745.8" y="603.2">Dec '19</text>
<text x="853.8" y="603.2">Jan '20</text>
<text x="967.8" y="603.2">Feb '20</text>
</g>
<path d="M1098.4 270.6L1103.6 262.20000000000005H1149V279.0H1103.6Z" fill="#0a1eff"/>
<text x="1146.3" y="274.9" font-size="12" font-weight="bold" fill="#fff" text-anchor="end">0.68958</text>
<path d="M1098.4 315.0L1103.6 306.6H1149V323.4H1103.6Z" fill="#a82432"/>
<text x="1146.3" y="319.3" font-size="12" font-weight="bold" fill="#fff" text-anchor="end">0.68284</text>
<path d="M1098.4 378.5L1103.6 370.1H1149V386.9H1103.6Z" fill="#f04023"/>
<text x="1146.3" y="382.8" font-size="12" font-weight="bold" fill="#fff" text-anchor="end">0.67317</text>
<path d="M1113 559.3L1118 550.9H1149V567.6999999999999H1118Z" fill="#f04023"/>
<text x="1146.3" y="563.6" font-size="12" font-weight="bold" fill="#fff" text-anchor="end">87K</text>
<rect x="764" y="608" width="7.2" height="8" fill="#666"/>
<path d="M766.5 610.5V615M768.7 610.5V615" stroke="#ddd" stroke-width="0.9"/>
<rect x="1075" y="608" width="7.2" height="8" fill="#666"/>
<path d="M1077.5 610.5V615M1079.7 610.5V615" stroke="#ddd" stroke-width="0.9"/>
</svg></body></html>
